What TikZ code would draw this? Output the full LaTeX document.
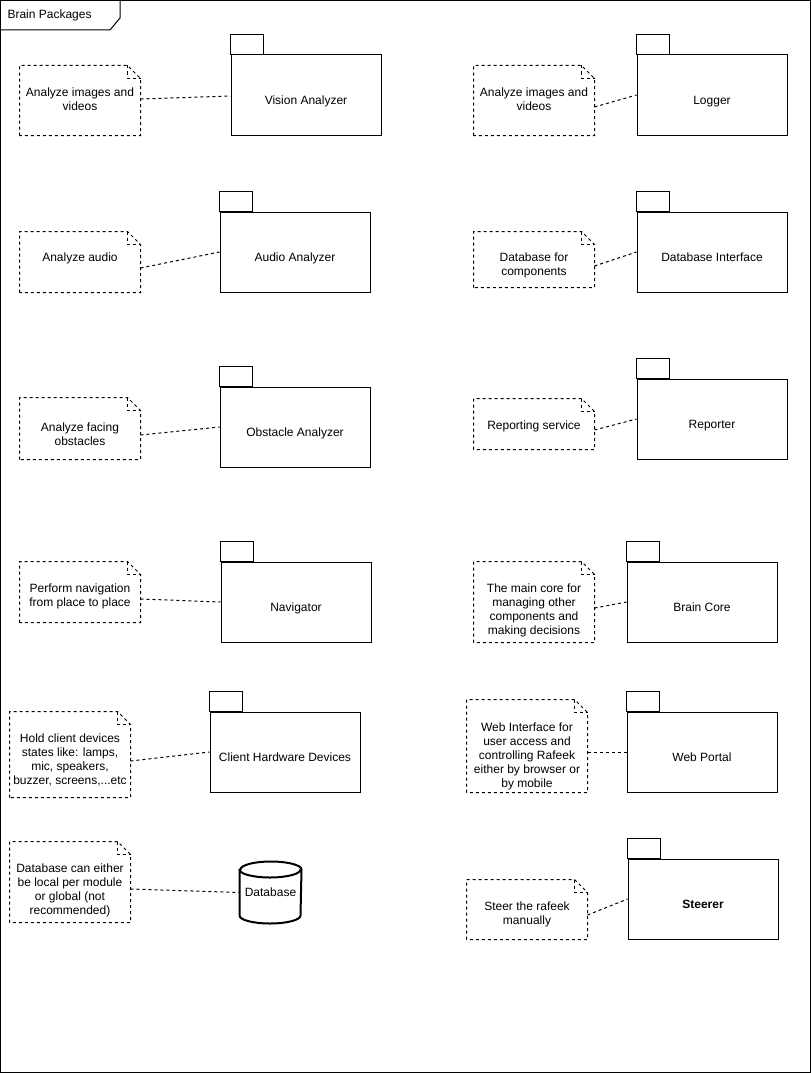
\documentclass[tikz,border=0pt]{standalone}
\usepackage{fontspec}
\setmainfont{Liberation Sans}
\begin{document}
\begin{tikzpicture}[x=1pt,y=1pt,line width=1pt,
  every node/.style={font=\fontsize{12}{14}\selectfont, text=black},
  pkg/.style={draw, minimum width=150pt, minimum height=80pt, inner sep=0pt,
              text height=20.5pt, text depth=2.5pt},
  notebox/.style={minimum width=120pt, inner sep=0pt},
  notetext/.style={align=center, inner sep=0pt},
  noteline/.style={dash pattern=on 3pt off 3pt},
  link/.style={dash pattern=on 3pt off 3pt},
  dbline/.style={line width=2pt},
]
\useasboundingbox (0,0) rectangle (811,-1073);

% outer frame with its title tab
\draw (0.5,-0.5) rectangle (810,-1072);
\draw (0.5,-30) -- (110,-30) -- (120,-18) -- (120,-0.5);
\node[anchor=west, inner sep=0pt] (title) at (7,-15) {Brain Packages};

% packages
\node[pkg] (va) at (306,-95)  {Vision Analyzer};
\node[pkg] (lg) at (712,-95)  {Logger};
\node[pkg] (aa) at (295,-252) {Audio Analyzer};
\node[pkg] (di) at (712,-252) {Database Interface};
\node[pkg] (oa) at (295,-427) {Obstacle Analyzer};
\node[pkg] (rp) at (712,-419) {Reporter};
\node[pkg] (nv) at (296,-602) {Navigator};
\node[pkg] (bc) at (702,-602) {Brain Core};
\node[pkg] (ch) at (285,-752) {Client Hardware Devices};
\node[pkg] (wp) at (702,-752) {Web Portal};
\node[pkg] (st) at (703,-899) {\textbf{Steerer}};
\foreach \p in {va,lg,aa,di,oa,rp,nv,bc,ch,wp,st}
  \draw (\p.north west) rectangle ++(33,20);

% database
\node[minimum width=61pt, minimum height=61pt, inner sep=0pt] (db) at (270.5,-892.5) {Database};
\draw[dbline] ([yshift=-8pt]db.north west) -- ([yshift=8pt]db.south west)
  arc[start angle=180, end angle=360, x radius=30.5pt, y radius=8pt]
  -- ([yshift=-8pt]db.north east)
  arc[start angle=0, end angle=180, x radius=30.5pt, y radius=8pt] -- cycle;
\draw[dbline] ([yshift=-8pt]db.north west)
  arc[start angle=180, end angle=360, x radius=30.5pt, y radius=8pt];

% notes
\node[notebox, minimum height=69pt] (nva) at (80,-100.5)  {};
\node[notebox, minimum height=69pt] (nlg) at (534,-100.5) {};
\node[notebox, minimum height=60pt] (naa) at (80,-262)    {};
\node[notebox, minimum height=55pt] (ndi) at (534,-259.5) {};
\node[notebox, minimum height=61pt] (noa) at (80,-428.5)  {};
\node[notebox, minimum height=50pt] (nrp) at (534,-424)   {};
\node[notebox, minimum height=60pt] (nnv) at (80,-592)    {};
\node[notebox, minimum height=80pt] (nbc) at (534,-602)   {};
\node[notebox, minimum height=85pt] (nch) at (70,-754.5)  {};
\node[notebox, minimum height=92pt] (nwp) at (527,-746)   {};
\node[notebox, minimum height=80pt] (ndb) at (70,-882)    {};
\node[notebox, minimum height=59pt] (nst) at (527,-909.5) {};
\foreach \n in {nva,nlg,naa,ndi,noa,nrp,nnv,nbc,nch,nwp,ndb,nst}{
  \draw[noteline] (\n.south west) -- (\n.north west) -- ([xshift=-13pt]\n.north east)
    -- ([yshift=-13pt]\n.north east) -- (\n.south east) -- cycle;
  \draw[noteline] ([xshift=-13pt]\n.north east) -- ([xshift=-13pt,yshift=-13pt]\n.north east)
    -- ([yshift=-13pt]\n.north east);
}

% note texts
\node[notetext] (tva) at ([yshift=1.5pt]nva.center) {Analyze images and\\videos};
\node[notetext] (tlg) at ([yshift=1pt]nlg.center)   {Analyze images and\\videos};
\node[notetext] (taa) at ([yshift=4pt]naa.center)   {Analyze audio};
\node[notetext] (tdi) at ([yshift=-5.5pt]ndi.center) {Database for\\components};
\node[notetext] (toa) at ([yshift=-5.5pt]noa.center) {Analyze facing\\obstacles};
\node[notetext] (trp) at ([yshift=-2pt]nrp.center)  {Reporting service};
\node[notetext] (tnv) at ([yshift=-4pt]nnv.center)  {Perform navigation\\from place to place};
\node[notetext] (tbc) at ([yshift=-8pt]nbc.center)  {The main core for\\managing other\\components and\\making decisions};
\node[notetext] (tch) at ([yshift=-5.5pt]nch.center) {Hold client devices\\states like: lamps,\\mic, speakers,\\buzzer, screens,...etc};
\node[notetext] (twp) at ([yshift=-10pt]nwp.center) {Web Interface for\\user access and\\controlling Rafeek\\either by browser or\\by mobile};
\node[notetext] (tdb) at ([yshift=-8pt]ndb.center)  {Database can either\\be local per module\\or global (not\\recommended)};
\node[notetext] (tst) at ([yshift=-4.5pt]nst.center) {Steer the rafeek\\manually};

% connectors from notes to their packages
\draw[link] ([yshift=1.5pt]nva.east)  -- ([yshift=-1pt]va.west);
\draw[link] ([yshift=-6.5pt]nlg.east) -- (lg.west);
\draw[link] ([yshift=-6pt]naa.east)   -- (aa.west);
\draw[link] ([yshift=-6.5pt]ndi.east) -- (di.west);
\draw[link] ([yshift=-6.5pt]noa.east) -- (oa.west);
\draw[link] ([yshift=-6pt]nrp.east)   -- (rp.west);
\draw[link] ([yshift=-7pt]nnv.east)   -- (nv.west);
\draw[link] ([yshift=-6pt]nbc.east)   -- (bc.west);
\draw[link] ([yshift=-6.5pt]nch.east) -- (ch.west);
\draw[link] ([yshift=-6pt]nwp.east)   -- (wp.west);
\draw[link] ([yshift=-7pt]ndb.east)   -- (db.west);
\draw[link] ([yshift=-5.5pt]nst.east) -- (st.west);
\end{tikzpicture}
\end{document}
